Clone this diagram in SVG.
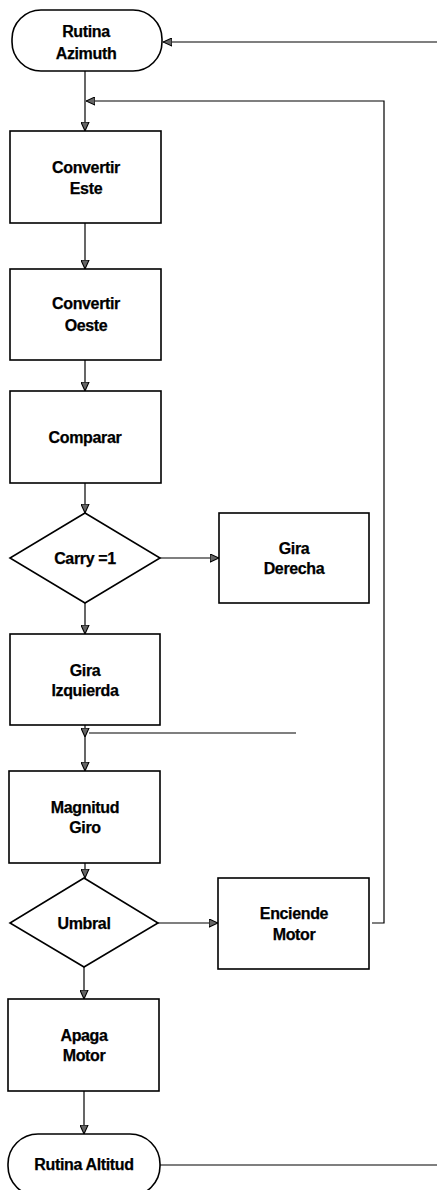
<svg xmlns="http://www.w3.org/2000/svg" width="437" height="1190" viewBox="0 0 437 1190">
  <style>
    .box { fill: #ffffff; stroke: #000000; stroke-width: 1.6; }
    .lbl { font-family: "Liberation Sans", Arial, sans-serif; font-weight: bold; font-size: 16px; fill: #000000; stroke: #000000; stroke-width: 0.25; text-anchor: middle; letter-spacing: -0.35px; }
    .wire { fill: none; stroke: #000000; stroke-width: 1.2; }
  </style>
  <defs>
    <marker id="arrow" viewBox="0 0 10 10" refX="10" refY="5" markerWidth="9" markerHeight="9" markerUnits="userSpaceOnUse" orient="auto">
      <path d="M0,0.5 L10,5 L0,9.5 z" fill="#666666" stroke="#000000" stroke-width="1.2"/>
    </marker>
  </defs>
  <rect width="437" height="1190" fill="#ffffff"/>

  <!-- connectors -->
  <g id="connectors">
    <!-- main column -->
    <path class="wire" d="M85,71 V131" marker-end="url(#arrow)"/>
    <path class="wire" d="M85,223 V269" marker-end="url(#arrow)"/>
    <path class="wire" d="M85,360 V391" marker-end="url(#arrow)"/>
    <path class="wire" d="M85,483 V513" marker-end="url(#arrow)"/>
    <path class="wire" d="M85,603 V634" marker-end="url(#arrow)"/>
    <path class="wire" d="M85,725 V737" marker-end="url(#arrow)"/>
    <path class="wire" d="M85,737 V771" marker-end="url(#arrow)"/>
    <path class="wire" d="M85,863 V878" marker-end="url(#arrow)"/>
    <path class="wire" d="M84,967 V999" marker-end="url(#arrow)"/>
    <path class="wire" d="M84,1091 V1134" marker-end="url(#arrow)"/>
    <!-- decision branches -->
    <path class="wire" d="M160,558 H219" marker-end="url(#arrow)"/>
    <path class="wire" d="M158,923 H218" marker-end="url(#arrow)"/>
    <!-- merge line above Magnitud Giro -->
    <path class="wire" d="M296,733 H89"/>
    <!-- loop back from Enciende Motor -->
    <path class="wire" d="M372,923 H384 V101 H86" marker-end="url(#arrow)"/>
    <!-- return into Rutina Azimuth -->
    <path class="wire" d="M437,42 H163" marker-end="url(#arrow)"/>
    <!-- out of Rutina Altitud -->
    <path class="wire" d="M160,1165 H437"/>
  </g>

  <g id="rutina-azimuth">
    <rect class="box" x="12" y="10" width="150" height="61" rx="29"/>
    <text class="lbl" x="86" y="36.5">Rutina</text>
    <text class="lbl" x="86" y="59">Azimuth</text>
  </g>

  <g id="convertir-este">
    <rect class="box" x="10" y="131" width="151" height="92"/>
    <text class="lbl" x="86" y="173.3">Convertir</text>
    <text class="lbl" x="86" y="193.5">Este</text>
  </g>

  <g id="convertir-oeste">
    <rect class="box" x="10" y="269" width="151" height="91"/>
    <text class="lbl" x="86" y="309">Convertir</text>
    <text class="lbl" x="86" y="331">Oeste</text>
  </g>

  <g id="comparar">
    <rect class="box" x="10" y="391" width="151" height="92"/>
    <text class="lbl" x="85" y="443">Comparar</text>
  </g>

  <g id="carry">
    <polygon class="box" points="85,513 160,558 85,603 10,558"/>
    <text class="lbl" x="85" y="564">Carry =1</text>
  </g>

  <g id="gira-derecha">
    <rect class="box" x="219" y="513" width="150" height="90"/>
    <text class="lbl" x="294" y="554">Gira</text>
    <text class="lbl" x="294" y="574">Derecha</text>
  </g>

  <g id="gira-izquierda">
    <rect class="box" x="10" y="634" width="150" height="91"/>
    <text class="lbl" x="85" y="676">Gira</text>
    <text class="lbl" x="85" y="696">Izquierda</text>
  </g>

  <g id="magnitud-giro">
    <rect class="box" x="9" y="771" width="151" height="92"/>
    <text class="lbl" x="85" y="813">Magnitud</text>
    <text class="lbl" x="85" y="833">Giro</text>
  </g>

  <g id="umbral">
    <polygon class="box" points="84,878 158,923 84,967 10,923"/>
    <text class="lbl" x="84" y="929">Umbral</text>
  </g>

  <g id="enciende-motor">
    <rect class="box" x="218" y="878" width="151" height="91"/>
    <text class="lbl" x="294" y="919">Enciende</text>
    <text class="lbl" x="294" y="940">Motor</text>
  </g>

  <g id="apaga-motor">
    <rect class="box" x="8" y="999" width="151" height="92"/>
    <text class="lbl" x="84" y="1041">Apaga</text>
    <text class="lbl" x="84" y="1061">Motor</text>
  </g>

  <g id="rutina-altitud">
    <rect class="box" x="8" y="1134" width="152" height="62" rx="30"/>
    <text class="lbl" x="84" y="1170">Rutina Altitud</text>
  </g>
</svg>
